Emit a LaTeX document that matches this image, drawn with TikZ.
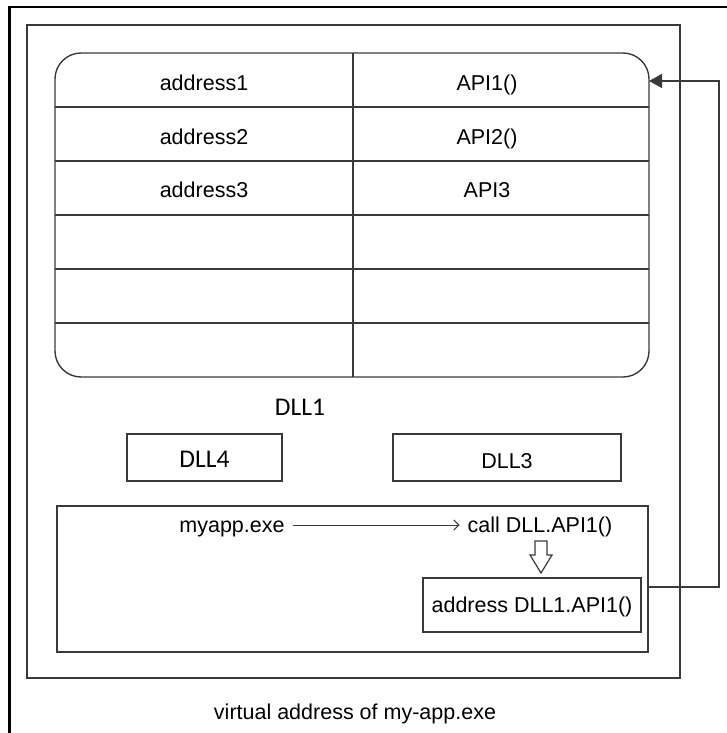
\documentclass[tikz,border=0pt]{standalone}
\usepackage{fontspec}
\setmainfont{Liberation Sans}
\newfontfamily\calib{Carlito}
\usetikzlibrary{arrows.meta}
\definecolor{ln}{HTML}{3A3A3A}
\tikzset{
  px/.style={x=1pt,y=-1pt},
  frame/.style={draw=ln,line width=1.4pt},
  lbl/.style={inner sep=0pt,anchor=base,font=\fontsize{21.5}{24}\selectfont},
  clbl/.style={inner sep=0pt,anchor=base,font=\calib\fontsize{25.5}{28}\selectfont},
  box/.style={frame,inner sep=0pt}
}
\begin{document}
\begin{tikzpicture}[px]
\useasboundingbox (0,0) rectangle (727,733);
% outer thick border (top and left)
\draw[black,line width=2.7pt] (9.7,733) -- (9.7,7) -- (727,7);
% process space frame
\draw[frame] (27,25) rectangle (680,678);
% DLL1 table
\draw[frame,rounded corners=26pt] (55,53) rectangle (649,377);
\foreach \y in {107,161,215,269,323} \draw[frame] (55,\y) -- (649,\y);
\draw[frame] (353,53) -- (353,377);
\node[lbl] (a1) at (204,91) {address1};
\node[lbl] (a2) at (204,144) {address2};
\node[lbl] (a3) at (204,197) {address3};
\node[lbl] (f1) at (487,91) {API1()};
\node[lbl] (f2) at (487,144) {API2()};
\node[lbl] (f3) at (487,197) {API3};
\coordinate (tabin) at (649,81);
\node[clbl] (dll1) at (300,415) {DLL1};
% other modules
\draw[box] (127,434) rectangle (282,481);
\node[clbl] (dll4) at (204.5,467) {DLL4};
\draw[box] (393,434) rectangle (621,481);
\node[lbl] (dll3) at (507,468) {DLL3};
% executable
\draw[frame] (57,506) rectangle (648,652);
\coordinate (exeout) at (648,587);
\node[lbl] (exe) at (232,532) {myapp.exe};
\node[lbl] (call) at (540,532) {call DLL.API1()};
\draw[ln,line width=1pt,-{Straight Barb[length=5pt,width=10pt]}] ([xshift=8pt,yshift=7pt]exe.base east) -- ([xshift=-8pt,yshift=7pt]call.base west);
\draw[frame,line width=1.2pt,line join=miter] (535,541) -- (547,541) -- (547,555) -- (552,555) -- (541,573) -- (530,555) -- (535,555) -- cycle;
\draw[box] (423,578) rectangle (641,632);
\node[lbl] (addr) at (532,612) {address DLL1.API1()};
% jump back into the table
\draw[frame,-{Triangle[length=13pt,width=14pt]}] (exeout) -- (719,587) -- (719,81) -- (tabin);
\node[lbl] (cap) at (355,719) {virtual address of my-app.exe};
\end{tikzpicture}
\end{document}
